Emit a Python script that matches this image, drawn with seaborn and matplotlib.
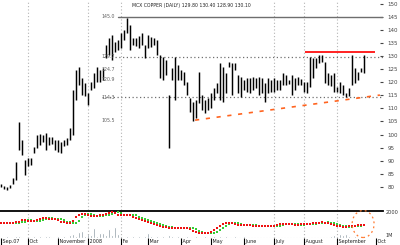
import matplotlib
matplotlib.use("Agg")
import matplotlib.pyplot as plt
import seaborn as sns
import pandas as pd
import numpy as np
from matplotlib.patches import Ellipse

# ---------------- data ----------------
high = [81.0, 80.3, 79.9, 80.6, 83.3, 89.5, 104.8, 97.9, 90.2, 91.0,
        91.0, 95.2, 99.8, 100.2, 99.8, 100.6, 99.0, 99.0, 97.9, 97.9,
        97.1, 97.9, 98.7, 102.5, 117.0, 124.7, 125.8, 121.6, 119.7, 115.9,
        120.1, 123.5, 125.8, 124.7, 125.5, 134.3, 136.9, 138.1, 135.4, 136.2,
        138.9, 140.0, 144.6, 141.9, 136.9, 136.9, 137.7, 138.9, 134.3, 138.1,
        137.3, 136.9, 136.2, 130.4, 129.7, 128.5, 115.1, 125.5, 129.7, 126.6,
        124.7, 123.9, 120.1, 114.0, 112.4, 113.2, 123.9, 115.1, 113.2, 114.0,
        115.9, 117.8, 119.7, 127.4, 125.8, 123.5, 127.8, 127.4, 127.4, 122.8,
        122.0, 120.9, 121.6, 121.6, 122.0, 121.6, 122.0, 121.6, 119.7, 121.6,
        120.9, 121.6, 120.9, 120.9, 123.5, 122.8, 120.9, 122.8, 121.6, 122.0,
        121.2, 120.1, 120.1, 129.7, 129.3, 129.3, 130.4, 130.4, 127.8, 123.5,
        122.8, 123.5, 118.2, 120.1, 118.9, 115.9, 117.8, 130.4, 125.5, 123.9,
        125.5, 130.4]
low = [79.9, 79.1, 78.7, 79.5, 81.0, 82.6, 94.1, 92.1, 84.5, 87.9,
       88.3, 92.9, 94.8, 96.0, 97.1, 94.1, 96.0, 96.4, 94.1, 93.3,
       92.9, 95.6, 96.0, 97.9, 99.8, 113.2, 118.9, 115.1, 114.7, 111.3,
       117.0, 117.8, 120.1, 120.1, 120.9, 129.3, 130.4, 128.5, 131.6, 132.4,
       133.1, 136.2, 138.9, 132.4, 134.3, 133.9, 133.1, 134.3, 129.3, 133.1,
       133.5, 134.3, 130.4, 121.6, 120.9, 122.8, 94.8, 120.9, 113.2, 120.9,
       120.9, 118.9, 115.1, 108.6, 105.2, 106.3, 112.1, 109.4, 108.2, 109.4,
       110.1, 113.2, 115.9, 113.2, 112.4, 115.9, 125.8, 115.1, 124.7, 115.9,
       114.3, 117.0, 116.3, 115.9, 117.0, 117.8, 115.1, 115.9, 112.4, 115.9,
       116.3, 116.3, 117.0, 117.0, 118.9, 118.9, 119.3, 115.1, 117.0, 118.9,
       118.9, 116.3, 115.9, 118.2, 121.6, 125.5, 127.4, 127.8, 119.7, 118.9,
       118.6, 116.3, 116.3, 115.9, 115.1, 114.3, 114.7, 118.9, 119.7, 120.9,
       123.9, 123.5]

osc = [13, 13, 13, 13, 13, 14, 14, 16, 16, 15, 15, 15, 16, 17, 18, 18, 17, 17, 17, 16,
       14, 14, 13, 13, 15, 19, 21, 22, 22, 21, 20, 20, 20, 21, 21, 22, 23, 24, 23, 21,
       21, 21, 21, 21, 19, 18, 17, 16, 15, 14, 13, 12, 11, 10, 9, 9, 8, 8, 8, 8,
       8, 8, 8, 7, 5, 4, 3, 3, 3, 3, 4, 6, 8, 10, 12, 13, 13, 13, 12, 11,
       11, 11, 11, 11, 10, 10, 10, 10, 10, 10, 10, 10, 11, 12, 12, 12, 12, 12, 11, 11,
       12, 12, 12, 12, 13, 13, 13, 14, 13, 13, 12, 11, 10, 10, 9, 9, 10, 10, 10, 11,
       11, 11]
signal = [13, 13, 13, 13, 13, 13, 13, 14, 14, 16, 16, 15, 15, 15, 16, 17, 18, 18, 17, 17,
          17, 16, 14, 14, 13, 13, 15, 19, 21, 22, 22, 21, 20, 20, 20, 21, 21, 22, 23, 24,
          23, 21, 21, 21, 21, 21, 19, 18, 17, 16, 15, 14, 13, 12, 11, 10, 9, 9, 8, 8,
          8, 8, 8, 8, 8, 7, 5, 4, 3, 3, 3, 3, 4, 6, 8, 10, 12, 13, 13, 13,
          12, 11, 11, 11, 11, 11, 10, 10, 10, 10, 10, 10, 10, 10, 11, 12, 12, 12, 12, 12,
          11, 11, 12, 12, 12, 12, 13, 13, 13, 14, 13, 13, 12, 11, 10, 10, 9, 9, 10, 10,
          10, 11]
volume = [0, 1, 2, 1, 1, 2, 2, 1, 0, 1, 1, 2, 1, 2, 1, 2, 2, 1, 1, 2,
          1, 2, 1, 3, 4, 2, 6, 7, 2, 4, 3, 10, 2, 5, 5, 3, 9, 3, 11, 4,
          2, 1, 2, 1, 2, 1, 2, 1, 2, 5, 2, 1, 2, 1, 2, 1, 3, 2, 1, 2,
          1, 1, 2, 1, 1, 2, 1, 1, 2, 1, 1, 2, 1, 2, 1, 2, 1, 1, 2, 1,
          1, 2, 1, 1, 1, 1, 1, 1, 1, 1, 1, 1, 1, 1, 1, 1, 1, 1, 1, 1,
          1, 1, 1, 1, 1, 1, 1, 1, 1, 1, 2, 3, 2, 4, 3, 4, 2, 1, 2, 1,
          1, 1]

month_starts = [0, 9, 19, 29, 40, 49, 60, 70, 81, 91, 101, 112, 125]
month_labels = ["Sep.07", "Oct", "November", "2008", "Fe", "Mar", "Apr",
                "May", "June", "July", "August", "September", "Oct"]
grid_months = [9, 29, 40, 91, 101, 112]

price_ticks = [150, 145, 140, 135, 130, 125, 120, 115, 110, 105, 100, 95, 90, 85, 80]
solid_level = 145.0
dotted_levels = [129.7, 114.3]
level_marks = [145.0, 129.7, 124.7, 120.9, 114.3, 105.5]
resistance = 131.6
resistance_from, resistance_to = 101.3, 124.7
trend_x = [64.7, 126.3]
trend_y = [105.5, 115.1]
title = "MCX COPPER (DAILY) 129.80 130.40 128.90 130.10"

# ---------------- figure ----------------
sns.set_style("white")
plt.rcParams['font.family'] = ['DejaVu Sans']
fig = plt.figure(figsize=(4.0, 2.45), dpi=100)
W, H = 400.0, 245.0
ax = fig.add_axes([0, (H - 210) / H, 383 / W, 210 / H])
axl = fig.add_axes([0, (H - 238) / H, 383 / W, 27 / H], sharex=ax)

n = len(high)
idx = np.arange(n)
df = pd.DataFrame({"i": idx, "high": high, "low": low, "osc": osc,
                   "signal": signal, "volume": volume})

xmin, xmax = -0.33, 127.33
ax.set_xlim(xmin, xmax)
ax.set_ylim(71.1, 151.5)

grid_kw = dict(color="#b4b4b4", lw=0.8, ls=(0, (1, 2)))
for g in grid_months:
    ax.axvline(g, **grid_kw)
    axl.axvline(g, **grid_kw)

# level lines
ax.axhline(solid_level, xmin=118 / 383, xmax=1, color="#6e6e6e", lw=1.0)
ax.axhline(dotted_levels[0], xmin=115 / 383, xmax=1, color="#707070", lw=0.9, ls=(0, (1, 2)))
ax.axhline(dotted_levels[1], xmin=102 / 383, xmax=1, color="#707070", lw=0.9, ls=(0, (1, 2)))
for lv in level_marks:
    ax.text(38.0, lv, f"{lv:.1f}", fontsize=3.4, color="#606060",
            ha="right", va="center")

# price bars
ax.vlines(df["i"], df["low"], df["high"], color="black", lw=1.05)

# resistance & trend
ax.hlines(resistance, resistance_from, resistance_to, color="#ff1010", lw=1.3)
sns.lineplot(x=trend_x, y=trend_y, ax=ax, color="#ff6420", lw=1.2,
             linestyle=(0, (2.5, 4)))

ax.text(0.345, 0.985, title, transform=ax.transAxes, fontsize=3.3,
        color="#222222", ha="left", va="top")

# right price axis
ax.yaxis.tick_right()
ax.set_yticks(price_ticks)
ax.set_yticklabels([str(t) for t in price_ticks])
ax.tick_params(axis="y", direction="in", length=2, width=0.8, labelsize=4,
               labelcolor="#444444", color="#444444", pad=3)
ax.tick_params(axis="x", bottom=False, labelbottom=False)
for s in ax.spines.values():
    s.set_visible(False)

# lower panel: volume + indicator
axl.set_ylim(0, 27)
axl.bar(df["i"], df["volume"], width=0.5, color="#7f8f99")
axl.set_yticks([])
for k, s in axl.spines.items():
    s.set_visible(k == "top")
axl.spines["top"].set_color("black")
axl.spines["top"].set_linewidth(1.3)

axi = axl.twinx()
axi.set_ylim(-2, 25)
sns.scatterplot(data=df, x="i", y="signal", ax=axi, color="#33cc33", s=1.6,
                marker="s", linewidth=0)
sns.scatterplot(data=df, x="i", y="osc", ax=axi, color="#ee1111", s=1.6,
                marker="s", linewidth=0)
axi.set_ylabel("")
axi.set_xlabel("")
axi.set_yticks([24, 1])
axi.set_yticklabels(["2000", "1M"])
axi.tick_params(axis="y", length=0, labelsize=3.6, labelcolor="#333333", pad=2)
for s in axi.spines.values():
    s.set_visible(False)
axi.add_patch(Ellipse((120.7, 12), 7.3, 27, fill=False, ec="#ff7a30", lw=0.9,
                      ls=(0, (1.5, 2.5)), clip_on=False))
axi.set_xlim(xmin, xmax)

axl.set_xticks(month_starts)
axl.set_xticklabels([" " + m for m in month_labels], ha="left")
axl.tick_params(axis="x", direction="out", length=6, width=0.8, color="black",
                labelsize=3.5, labelcolor="#222222", pad=-5.5, bottom=True)
axl.set_xlabel("")

fig.savefig("out.png", dpi=100)
